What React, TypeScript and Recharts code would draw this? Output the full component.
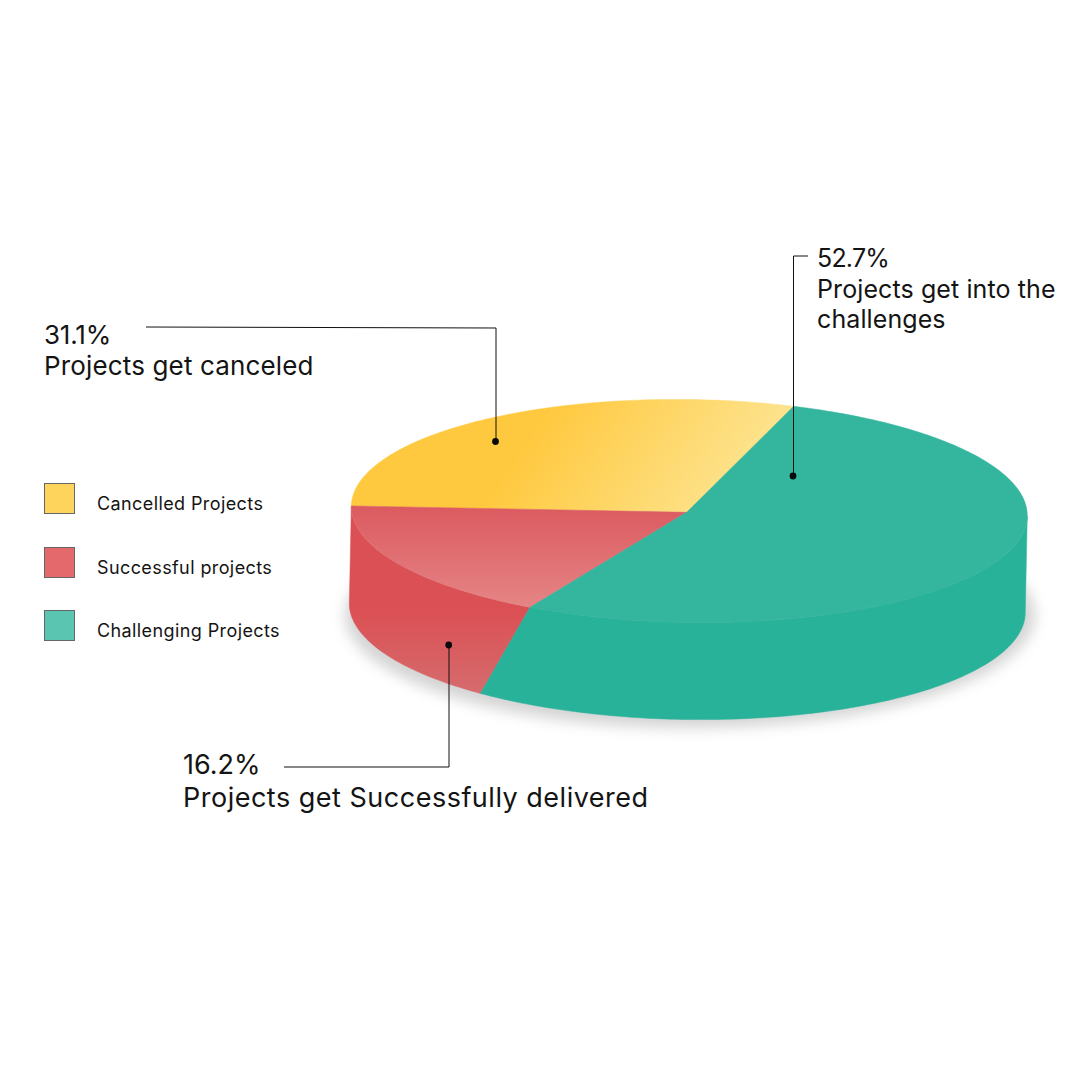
import React from 'react';
import { PieChart, Pie, Legend } from 'recharts';

const categories = ['Cancelled Projects', 'Successful projects', 'Challenging Projects'];
const shares = [31.1, 16.2, 52.7];
const calloutLines = [
  ['Projects get canceled'],
  ['Projects get Successfully delivered'],
  ['Projects get into the', 'challenges'],
];

const topFills = ['url(#topYellow)', 'url(#topRed)', '#34B59D'];
const wallFills = ['#FFC93F', 'url(#wallRed)', '#28B29A'];
const legendColors = ['#FFD45D', '#E4696C', '#5AC5B1'];

const chartData = categories.map((name, i) => ({
  name,
  value: shares[i],
  fill: topFills[i],
  wall: wallFills[i],
}));

const FONT = 'Inter, sans-serif';
const INK = '#141414';

// the disc as seen from above: flattened, slightly tilted
const SQUASH = 111.5 / 338;
const TILT = (0.85 * Math.PI) / 180;
const DEPTH = 97;
const WALL_DX = -2;
const APEX = { x: 686.7, y: 512.3 };

const rad = (d: number) => (d * Math.PI) / 180;

// perspective makes slices look a little wider or narrower than their true angle
const warp = (deg: number) => deg + 1.02 + 4.64 * Math.cos(rad(deg)) - 1.78 * Math.sin(rad(deg));

const onRim = (cx: number, cy: number, r: number, deg: number) => {
  const px = r * Math.cos(rad(deg));
  const py = -r * SQUASH * Math.sin(rad(deg));
  return {
    x: cx + px * Math.cos(TILT) - py * Math.sin(TILT),
    y: cy + px * Math.sin(TILT) + py * Math.cos(TILT),
  };
};

const arcPoints = (cx: number, cy: number, r: number, from: number, to: number) => {
  const n = Math.max(2, Math.ceil(Math.abs(to - from)));
  const pts = [];
  for (let i = 0; i <= n; i++) pts.push(onRim(cx, cy, r, from + ((to - from) * i) / n));
  return pts;
};

const toPath = (pts: { x: number; y: number }[]) =>
  pts.map((p, i) => `${i ? 'L' : 'M'}${p.x.toFixed(2)} ${p.y.toFixed(2)}`).join(' ') + ' Z';

const TopSlice = (props: any) => {
  const { cx, cy, outerRadius, startAngle, endAngle, fill } = props;
  const rim = arcPoints(cx, cy, outerRadius, warp(startAngle), warp(endAngle));
  return <path d={toPath([APEX, ...rim])} fill={fill} stroke={fill} strokeWidth={0.5} />;
};

const WallSlice = (props: any) => {
  const { cx, cy, outerRadius, startAngle, endAngle, payload } = props;
  // only the front half of the rim can be seen
  const from = Math.max(warp(startAngle), 180);
  const to = Math.min(warp(endAngle), 360);
  if (to <= from) return null;
  const upper = arcPoints(cx, cy, outerRadius, from, to);
  // the lower rim leans away from the upper one towards the front
  const lower = upper
    .map((_, i, all) => {
      const deg = from + ((to - from) * i) / (all.length - 1);
      const p = onRim(cx, cy, outerRadius, deg + 10.9 * Math.sin(rad(deg)));
      return { x: p.x + WALL_DX, y: p.y + DEPTH };
    })
    .reverse();
  return <path d={toPath([...upper, ...lower])} fill={payload.wall} stroke={payload.wall} strokeWidth={0.5} />;
};

const callouts = [
  { x: 44, y: 344, size: 26, spacing: 0.15, pctSpacing: -0.2, gap: 31, leader: '146,327 496,328 496,441', dot: [495.5, 441.5] },
  { x: 183, y: 774, size: 27, spacing: 0.5, pctSpacing: 0, gap: 33, leader: '284,767 449,767 449,645', dot: [448.7, 645] },
  { x: 817, y: 267, size: 25, spacing: 0.1, pctSpacing: -0.8, gap: 31, leader: '808,256 793.5,256 793.5,476', dot: [793, 476] },
];

const Callout = (props: any) => {
  const i = props.index;
  const c = callouts[i];
  return (
    <g>
      <polyline points={c.leader} fill="none" stroke="#111" strokeWidth={1} />
      <circle cx={c.dot[0]} cy={c.dot[1]} r={3.4} fill="#0a0a0a" />
      <text x={c.x} y={c.y} fontFamily={FONT} fontSize={c.size} letterSpacing={c.pctSpacing} fill={INK}>
        {shares[i].toFixed(1)}%
      </text>
      {calloutLines[i].map((line, k) => (
        <text
          key={line}
          x={c.x}
          y={c.y + c.gap + k * 30}
          fontFamily={FONT}
          fontSize={c.size}
          letterSpacing={c.spacing}
          fill={INK}
        >
          {line}
        </text>
      ))}
    </g>
  );
};

// both pies report to the legend, so go by the category list and show each once
const LegendList = () => (
  <div>
    {categories.map((name, i) => (
      <div key={name} style={{ position: 'relative', height: 63.5 }}>
        <div
          style={{
            position: 'absolute',
            left: 0,
            top: 0,
            width: 29,
            height: 29,
            background: legendColors[i],
            border: '1px solid #666',
          }}
        />
        <div
          style={{
            position: 'absolute',
            left: 53,
            top: 9,
            fontFamily: FONT,
            fontSize: 18,
            letterSpacing: 0.4,
            lineHeight: '24px',
            color: INK,
            whiteSpace: 'nowrap',
          }}
        >
          {name}
        </div>
      </div>
    ))}
  </div>
);

export default function App() {
  return (
    <div style={{ position: 'absolute', left: 0, top: 0, width: 1080, height: 1080, background: '#fff' }}>
      <PieChart width={1080} height={1080} margin={{ top: 0, right: 0, bottom: 0, left: 0 }}>
        <defs>
          <linearGradient id="topYellow" gradientUnits="userSpaceOnUse" x1={525} y1={445} x2={690} y2={557}>
            <stop offset="0" stopColor="#FFC93F" />
            <stop offset="1" stopColor="#FDE38D" />
          </linearGradient>
          <linearGradient id="topRed" gradientUnits="userSpaceOnUse" x1={440} y1={506} x2={440} y2={608}>
            <stop offset="0" stopColor="#DB5A60" />
            <stop offset="1" stopColor="#E58585" />
          </linearGradient>
          <linearGradient id="wallRed" gradientUnits="userSpaceOnUse" x1={420} y1={610} x2={420} y2={695}>
            <stop offset="0" stopColor="#DB5054" />
            <stop offset="1" stopColor="#D56C6E" />
          </linearGradient>
          <filter id="pieShadow" x="-10%" y="-30%" width="120%" height="160%">
            <feGaussianBlur stdDeviation="7" />
          </filter>
        </defs>
        <ellipse cx={690} cy={615} rx={345} ry={113} fill="#000" fillOpacity={0.17} filter="url(#pieShadow)" />
        <Pie
          data={chartData}
          dataKey="value"
          nameKey="name"
          cx={689.3}
          cy={511}
          outerRadius={338}
          startAngle={71.5}
          endAngle={431.5}
          legendType="none"
          stroke="none"
          isAnimationActive={false}
          shape={WallSlice}
        />
        <Pie
          data={chartData}
          dataKey="value"
          nameKey="name"
          cx={689.3}
          cy={511}
          outerRadius={338}
          startAngle={71.5}
          endAngle={431.5}
          stroke="none"
          isAnimationActive={false}
          shape={TopSlice}
          label={Callout}
          labelLine={false}
        />
        <Legend
          layout="vertical"
          align="center"
          verticalAlign="middle"
          content={LegendList}
          wrapperStyle={{ left: 44, top: 483, width: 260, margin: 0 }}
        />
      </PieChart>
    </div>
  );
}
